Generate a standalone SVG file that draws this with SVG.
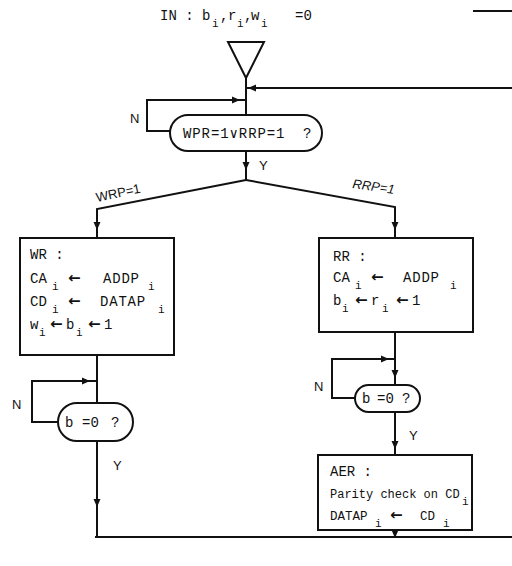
<svg xmlns="http://www.w3.org/2000/svg" width="512" height="566" viewBox="0 0 512 566">
<style>
.ln{fill:none;stroke:#111;stroke-width:2}
.bx{fill:#fff;stroke:#111;stroke-width:2}
.t{font-family:"Liberation Mono","DejaVu Sans Mono",monospace;font-size:14px;fill:#111}
.s{font-size:11px}
.ar{font-family:"DejaVu Sans",sans-serif;font-size:15px;font-weight:bold}
.lb{font-family:"Liberation Sans",Arial,sans-serif;font-size:13px;fill:#111}
.ah{fill:#111}
</style>
<defs>
<path id="ah" d="M4,0 L-4,-3.5 L-4,3.5 Z"/>
</defs>
<rect width="512" height="566" fill="#fff"/>
<g id="title">
<text class="t" y="20"><tspan x="160">IN : b</tspan><tspan class="s" x="212" y="27">i</tspan><tspan x="220" y="20">,</tspan><tspan x="228">r</tspan><tspan class="s" x="237" y="27">i</tspan><tspan x="244" y="20">,</tspan><tspan x="251">w</tspan><tspan class="s" x="261" y="27">i</tspan><tspan x="295" y="20">=0</tspan></text>
<line class="ln" x1="473" y1="11" x2="512" y2="11"/>
</g>
<g id="connectors">
<polyline class="ln" points="246,78 246,115"/>
<polyline class="ln" points="512,88 246,88"/>
<use href="#ah" class="ah" transform="translate(252,88) rotate(180)"/>
<polyline class="ln" points="246,100 147,100 147,131 170,131"/>
<use href="#ah" class="ah" transform="translate(236,100)"/>
<polyline class="ln" points="246,151 246,180"/>
<use href="#ah" class="ah" transform="translate(246,166) rotate(90)"/>
<polyline class="ln" points="246,180 97,209 97,238"/>
<use href="#ah" class="ah" transform="translate(97,226) rotate(90)"/>
<polyline class="ln" points="246,180 395,207 395,238"/>
<use href="#ah" class="ah" transform="translate(395,226) rotate(90)"/>
<polyline class="ln" points="97,355 97,403"/>
<polyline class="ln" points="97,381 32,381 32,422 58,422"/>
<use href="#ah" class="ah" transform="translate(86,381)"/>
<polyline class="ln" points="97,441 97,537"/>
<use href="#ah" class="ah" transform="translate(97,503) rotate(90)"/>
<polyline class="ln" points="395,332 395,385"/>
<polyline class="ln" points="395,359 332,359 332,398 355,398"/>
<use href="#ah" class="ah" transform="translate(385,359)"/>
<use href="#ah" class="ah" transform="translate(395,374) rotate(90)"/>
<polyline class="ln" points="395,412 395,455"/>
<use href="#ah" class="ah" transform="translate(395,445) rotate(90)"/>
<polyline class="ln" points="395,530 395,537"/>
<use href="#ah" class="ah" transform="translate(395,534) rotate(90)"/>
<polyline class="ln" points="95,537 512,537"/>
<text class="lb" x="130" y="123">N</text>
<text class="lb" x="259" y="170">Y</text>
<text class="lb" transform="translate(97,202) rotate(-12)">WRP=1</text>
<text class="lb" font-style="italic" transform="translate(352,188) rotate(8)">RRP=1</text>
<text class="lb" x="12" y="409">N</text>
<text class="lb" x="113" y="470">Y</text>
<text class="lb" x="314" y="391">N</text>
<text class="lb" x="409" y="440">Y</text>
</g>
<g id="start">
<polygon class="bx" points="228,42 264,42 246,78"/>
</g>
<g id="decision1">
<rect class="bx" x="170" y="115" width="152" height="36" rx="18"/>
<text class="t" y="138"><tspan x="183" letter-spacing="0.9">WPR=1∨RRP=1</tspan><tspan x="303">?</tspan></text>
</g>
<g id="wr">
<rect class="bx" x="20" y="238" width="154" height="117"/>
<text class="t" x="30" y="259">WR  :</text>
<text class="t" y="283"><tspan x="30">CA</tspan><tspan class="s" x="52" y="290">i</tspan><tspan class="ar" x="68" y="283">←</tspan><tspan x="103" y="283" letter-spacing="0.8">ADDP</tspan><tspan class="s" x="148" y="290">i</tspan></text>
<text class="t" y="306"><tspan x="30">CD</tspan><tspan class="s" x="52" y="313">i</tspan><tspan class="ar" x="68" y="306">←</tspan><tspan x="100" y="306" letter-spacing="0.8">DATAP</tspan><tspan class="s" x="158" y="313">i</tspan></text>
<text class="t" y="329"><tspan x="30">w</tspan><tspan class="s" x="39" y="336">i</tspan><tspan class="ar" x="50" y="329">←</tspan><tspan x="66" y="329">b</tspan><tspan class="s" x="76" y="336">i</tspan><tspan class="ar" x="88" y="329">←</tspan><tspan x="104" y="329">1</tspan></text>
</g>
<g id="decision2">
<rect class="bx" x="58" y="403" width="75" height="38" rx="19"/>
<text class="t" y="427"><tspan x="65">b</tspan><tspan x="82">=0</tspan><tspan x="111">?</tspan></text>
</g>
<g id="rr">
<rect class="bx" x="319" y="238" width="154" height="94"/>
<text class="t" x="333" y="261">RR  :</text>
<text class="t" y="282"><tspan x="333">CA</tspan><tspan class="s" x="355" y="289">i</tspan><tspan class="ar" x="371" y="282">←</tspan><tspan x="403" y="282" letter-spacing="0.8">ADDP</tspan><tspan class="s" x="450" y="289">i</tspan></text>
<text class="t" y="305"><tspan x="333">b</tspan><tspan class="s" x="342" y="312">i</tspan><tspan class="ar" x="355" y="305">←</tspan><tspan x="371" y="305">r</tspan><tspan class="s" x="382" y="312">i</tspan><tspan class="ar" x="396" y="305">←</tspan><tspan x="412" y="305">1</tspan></text>
</g>
<g id="decision3">
<rect class="bx" x="355" y="385" width="65" height="27" rx="13.5"/>
<text class="t" y="403"><tspan x="362">b</tspan><tspan x="377">=0</tspan><tspan x="402">?</tspan></text>
</g>
<g id="aer">
<rect class="bx" x="318" y="455" width="154" height="75"/>
<text class="t" x="330" y="476">AER :</text>
<text class="t" y="498"><tspan x="330" font-size="12">Parity check on CD</tspan><tspan class="s" x="462" y="505">i</tspan></text>
<text class="t" y="520"><tspan x="330" font-size="12.5">DATAP</tspan><tspan class="s" x="375" y="527">i</tspan><tspan class="ar" x="390" y="520">←</tspan><tspan x="420" y="520" font-size="12.5">CD</tspan><tspan class="s" x="443" y="527">i</tspan></text>
</g>
</svg>
